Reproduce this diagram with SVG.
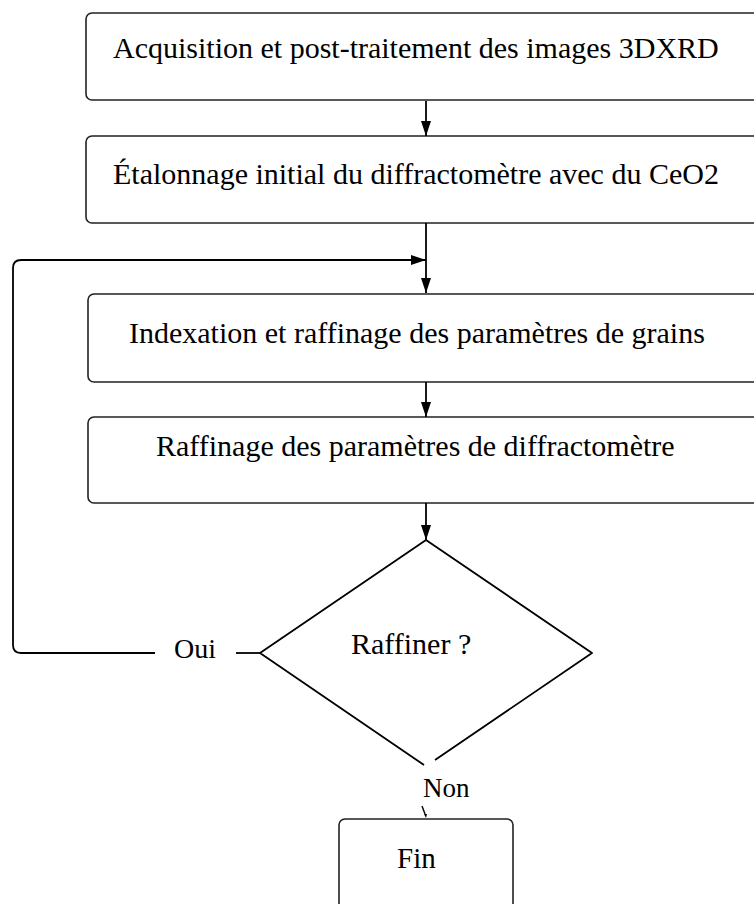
<svg xmlns="http://www.w3.org/2000/svg" width="754" height="904" viewBox="0 0 754 904">
<defs>
<style>
.box{fill:#fff;stroke:#222;stroke-width:1.6}
.t{font-family:"Liberation Serif","Times New Roman",serif;font-size:30px;fill:#000}
.c{fill:none;stroke:#000;stroke-width:1.8}
</style>
<marker id="ah" markerWidth="16" markerHeight="10" refX="15" refY="5" orient="auto" markerUnits="userSpaceOnUse">
<path d="M0,0 L15,5 L0,10 Z" fill="#000"/>
</marker>
</defs>
<rect width="754" height="904" fill="#fff"/>
<g id="n1"><rect class="box" x="86" y="13" width="700" height="87" rx="6"/><text class="t" x="113" y="58">Acquisition et post-traitement des images 3DXRD</text></g>
<g id="n2"><rect class="box" x="86" y="136" width="700" height="87" rx="6"/><text class="t" x="113" y="184">Étalonnage initial du diffractomètre avec du CeO2</text></g>
<g id="n3"><rect class="box" x="88" y="294" width="700" height="88" rx="6"/><text class="t" x="129" y="343">Indexation et raffinage des paramètres de grains</text></g>
<g id="n4"><rect class="box" x="88" y="417" width="700" height="86" rx="6"/><text class="t" x="156" y="456">Raffinage des paramètres de diffractomètre</text></g>
<g id="n5"><path class="c" stroke-linejoin="round" d="M426,540 L592,653 L435,760 M424,765 L260,653 L426,540"/><text class="t" x="351" y="654">Raffiner ?</text></g>
<g id="n6"><rect class="box" x="339" y="819" width="174" height="120" rx="6"/><text class="t" x="397" y="868" style="font-size:29px">Fin</text></g>
<g id="connectors">
<line class="c" x1="426" y1="101" x2="426" y2="136" marker-end="url(#ah)"/>
<line class="c" x1="426" y1="223" x2="426" y2="293" marker-end="url(#ah)"/>
<line class="c" x1="426" y1="382" x2="426" y2="417" marker-end="url(#ah)"/>
<line class="c" x1="426" y1="503" x2="426" y2="540" marker-end="url(#ah)"/>
<path class="c" d="M155,653 H21 Q13,653 13,645 V268 Q13,260 21,260 H426" marker-end="url(#ah)"/>
<line class="c" x1="236" y1="653" x2="260" y2="653"/>
<text class="t" x="174" y="658" style="font-size:28px">Oui</text>
<text class="t" x="423" y="797" style="font-size:27px">Non</text>
<path d="M422,806 L425,814" stroke="#000" stroke-width="1.4"/>
<path d="M424,814 L427,814 L426,818 Z" fill="#000"/>
</g>
</svg>
